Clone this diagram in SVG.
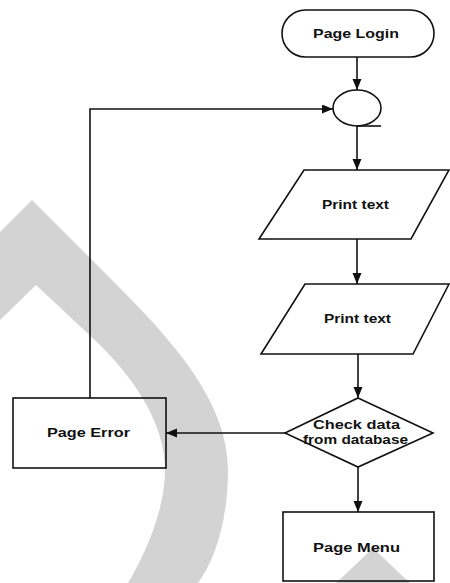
<svg xmlns="http://www.w3.org/2000/svg" width="450" height="583" viewBox="0 0 450 583">
  <style>
    .shape { fill: none; stroke: #111; stroke-width: 1.6; }
    .edge { fill: none; stroke: #111; stroke-width: 1.6; }
    .label { font-family: "Liberation Sans", Arial, sans-serif; font-size: 13px; font-weight: bold; fill: #111; text-anchor: middle; }
    .mark { fill: #d3d3d3; stroke: none; }
  </style>
  <defs>
    <marker id="arrow" markerUnits="userSpaceOnUse" markerWidth="12" markerHeight="10" refX="11" refY="4.5" orient="auto">
      <path d="M0,0 L11,4.5 L0,9 Z" fill="#111"/>
    </marker>
  </defs>

  <rect width="450" height="583" fill="#fff"/>

  <!-- background emblem shapes -->
  <g id="emblem">
    <path class="mark" d="M0,232 L32,200 L112,280 C170,338 228,400 228,470 C228,520 215,560 198,583 L128,583 C145,555 165,510 165,470 C165,420 130,375 100,345 L36,285 L0,320 Z"/>
    <path class="mark" d="M373,548 L413,586 L333,586 Z"/>
  </g>

  <!-- connectors -->
  <g id="connectors">
    <line class="edge" x1="357" y1="57" x2="357" y2="90" marker-end="url(#arrow)"/>
    <polyline class="edge" points="90,398 90,109 333,109" marker-end="url(#arrow)"/>
    <line class="edge" x1="357" y1="126" x2="357" y2="170" marker-end="url(#arrow)"/>
    <line class="edge" x1="357" y1="239" x2="357" y2="284" marker-end="url(#arrow)"/>
    <line class="edge" x1="358" y1="354" x2="358" y2="398" marker-end="url(#arrow)"/>
    <line class="edge" x1="285" y1="433" x2="166" y2="433" marker-end="url(#arrow)"/>
    <line class="edge" x1="358" y1="467" x2="358" y2="512" marker-end="url(#arrow)"/>
  </g>

  <g id="page-login">
    <rect class="shape" x="282" y="10" width="152" height="47" rx="23.5"/>
    <text class="label" x="356" y="37.5" textLength="86" lengthAdjust="spacingAndGlyphs">Page Login</text>
  </g>

  <g id="connector-node">
    <ellipse class="shape" cx="357" cy="108" rx="24" ry="18"/>
    <line class="shape" x1="357" y1="126" x2="381" y2="126"/>
  </g>

  <g id="print-text-1">
    <polygon class="shape" points="304,170 449,170 411,239 259,239"/>
    <text class="label" x="355.5" y="208.5" textLength="67" lengthAdjust="spacingAndGlyphs">Print text</text>
  </g>

  <g id="print-text-2">
    <polygon class="shape" points="305,284 449,284 413,354 261,354"/>
    <text class="label" x="357.5" y="322.5" textLength="67" lengthAdjust="spacingAndGlyphs">Print text</text>
  </g>

  <g id="check-data">
    <polygon class="shape" points="358,398 433,433 358,467 285,433"/>
    <text class="label" x="356.5" y="429" textLength="87" lengthAdjust="spacingAndGlyphs">Check data</text>
    <text class="label" x="355.5" y="444" textLength="105" lengthAdjust="spacingAndGlyphs">from database</text>
  </g>

  <g id="page-error">
    <rect class="shape" x="13" y="398" width="153" height="70"/>
    <text class="label" x="88.5" y="436.5" textLength="83" lengthAdjust="spacingAndGlyphs">Page Error</text>
  </g>

  <g id="page-menu">
    <rect class="shape" x="283" y="512" width="151" height="69"/>
    <text class="label" x="356.5" y="552" textLength="87" lengthAdjust="spacingAndGlyphs">Page Menu</text>
  </g>
</svg>
